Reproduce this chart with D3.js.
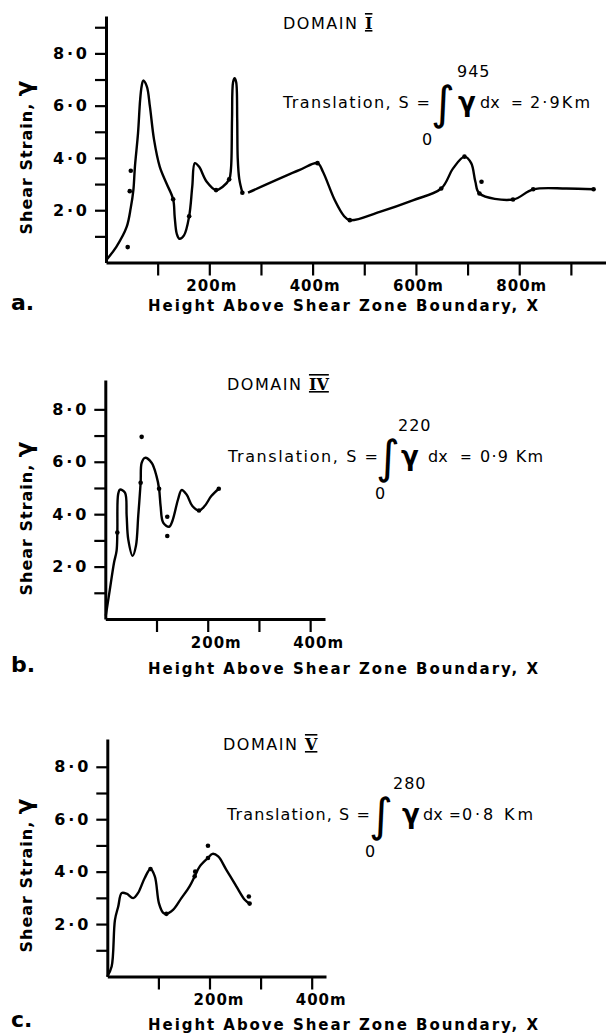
<!DOCTYPE html>
<html>
<head>
<meta charset="utf-8">
<script src="https://cdn.jsdelivr.net/npm/d3@7"></script>
<style>
  body { margin: 0; background: #fff; }
  text { font-family: "DejaVu Sans", sans-serif; fill: #000; }
</style>
</head>
<body>
<svg id="chart"></svg>
<script>
// values: [height above boundary (m), shear strain]
var curveA1 = [[0,0.08],[20,0.6],[40,1.36],[48,2.1],[53,2.77],[56,3.67],[62,4.95],[66,6.2],[69,6.74],[72,6.96],
  [79,6.74],[85,5.97],[93,4.7],[104,3.67],[117,3.03],[130,2.42],[133,1.74],[137,1.1],[142,0.91],[151,1.04],
  [161,1.77],[167,2.9],[172,3.8],[180,3.67],[195,3.09],[213,2.77],[226,2.9],[238.5,3.18],[242,3.6],[244,5.5],
  [246,6.9],[249,7.05],[252,6.9],[254,5.5],[255,4.0],[258,3.2],[264,2.67]]
var curveA2 = [[275,2.67],[375,3.54],[409.5,3.8],[420,3.47],[443,2.38],[460,1.8],[472,1.62],[530,1.94],[594,2.38],
  [649,2.83],[672,3.6],[694,4.05],[707,3.8],[715,3.1],[723,2.64],[788,2.41],[827,2.8],[891,2.83],[944,2.8]]
var dotsA = [[130,2.42],[161,1.77],[213,2.77],[238.5,3.18],[264,2.67],[409.5,3.8],[472,1.62],[649,2.83],
  [694,4.05],[723,2.64],[788,2.41],[827,2.8],[944,2.8],[42,0.59],[46,2.73],[48,3.51],[727,3.09]]

var curveB = [[1,0.13],[9,1.14],[17,2.15],[22,2.6],[23.5,3.3],[25,4.75],[28.6,4.94],[38.4,4.82],[41.7,3.93],
  [44.8,3.04],[53.4,2.41],[59.8,2.79],[64.3,3.93],[69,5.2],[71,5.96],[77.4,6.15],[90.4,5.96],[100,5.45],
  [105,4.97],[108,4.31],[113,3.68],[124.7,3.52],[131,3.74],[142,4.56],[149,4.92],[158.7,4.75],[170,4.31],
  [183,4.14],[194,4.31],[207,4.69],[221.6,4.97]]
var dotsB = [[23.5,3.3],[69,5.2],[105,4.97],[183,4.14],[221.6,4.97],[71,6.95],[121,3.9],[121,3.17]]

var curveC = [[0,0],[8.5,0.38],[15,2.16],[21.4,2.67],[28,3.18],[37.7,3.16],[50.6,2.99],[60,3.18],[73,3.75],
  [84.5,4.1],[93,3.82],[101,2.8],[109,2.44],[115.6,2.39],[128.6,2.54],[145,2.99],[161,3.44],[171,3.82],
  [181,4.2],[197,4.52],[206,4.68],[217,4.58],[233,4.07],[252.5,3.44],[269,2.93],[278.5,2.78]]
var dotsC = [[84.5,4.1],[115.6,2.39],[171,3.82],[197,4.52],[278.5,2.78],[172,4.0],[197,4.99],[277,3.05]]

var yTicksA = [1,2,3,4,5,6,7,8,9]
var yTicksBC = [1,2,3,4,5,6,7,8]
var xTicksA = [100,200,300,400,500,600,700,800,900]
var xTicksBC = [100,200,300,400]
var yLabelled = [2,4,6,8]
var xLabelled = [200,400,600,800]

var domains = ["I", "IV", "V"]
var upperLimits = ["945", "220", "280"]
var results = ["2·9Km", "0·9 Km", "0·8 Km"]

var width = 606, height = 1033

var svg = d3.select("#chart")
    .attr("width", width)
    .attr("height", height)

var panels = [
  {tag: "a.", curves: [curveA1, curveA2], dots: dotsA, xMax: 968, left: 106, right: 606,
   yMax: 9.43, bottom: 262.5, top: 16, yTicks: yTicksA, xTicks: xTicksA, labelDx: 2,
   yTitle: 157, xTitleY: 311, tagY: 310,
   domX: 283, domY: 29, trX: 283, trY: 108, trW: 147,
   intX: 431, supX: 457, subX: 422, gamX: 458, dxX: 480, eqX: 511, resX: 530, resW: 60},
  {tag: "b.", curves: [curveB], dots: dotsB, xMax: 429, left: 105.3, right: 325,
   yMax: 9.12, bottom: 619, top: 380, yTicks: yTicksBC, xTicks: xTicksBC, labelDx: 8,
   yTitle: 518, xTitleY: 674, tagY: 672,
   domX: 227, domY: 390, trX: 228, trY: 462, trW: 150,
   intX: 376, supX: 398, subX: 375, gamX: 401, dxX: 428, eqX: 460, resX: 480, resW: 63},
  {tag: "c.", curves: [curveC], dots: dotsC, xMax: 428, left: 107.3, right: 326,
   yMax: 9.06, bottom: 976.5, top: 739, yTicks: yTicksBC, xTicks: xTicksBC, labelDx: 9,
   yTitle: 875, xTitleY: 1030, tagY: 1027,
   domX: 223, domY: 750, trX: 227, trY: 820, trW: 143,
   intX: 369, supX: 393, subX: 365, gamX: 402, dxX: 423, eqX: 449, resX: 462, resW: 71}
]

panels.forEach(function(p, i) {
  var x = d3.scaleLinear().domain([0, p.xMax]).range([p.left, p.right])
  var y = d3.scaleLinear().domain([0, p.yMax]).range([p.bottom, p.top])

  var g = svg.append("g")

  // y axis
  var yAxis = g.append("g")
      .attr("transform", "translate(" + p.left + ",0)")
      .call(d3.axisLeft(y)
          .tickValues(p.yTicks)
          .tickSize(11)
          .tickSizeOuter(0)
          .tickPadding(8)
          .tickFormat(d => yLabelled.includes(d) ? d + "·0" : ""))
  yAxis.select(".domain").attr("stroke-width", 3)
  yAxis.selectAll(".tick line").attr("stroke-width", 2.2)
  yAxis.selectAll(".tick text")
      .attr("font-size", 16).attr("font-weight", "bold")
      .attr("font-family", "DejaVu Sans")
      .attr("textLength", 34).attr("lengthAdjust", "spacing")

  // x axis
  var xAxis = g.append("g")
      .attr("transform", "translate(0," + p.bottom + ")")
      .call(d3.axisBottom(x)
          .tickValues(p.xTicks)
          .tickSize(13)
          .tickSizeOuter(0)
          .tickPadding(5)
          .tickFormat(d => xLabelled.includes(d) ? d + "m" : ""))
  xAxis.select(".domain").attr("stroke-width", 3.2)
  xAxis.selectAll(".tick line").attr("stroke-width", 2.2)
  xAxis.selectAll(".tick text")
      .attr("font-size", 15).attr("font-weight", "bold")
      .attr("letter-spacing", 1).attr("font-family", "DejaVu Sans")
      .attr("dx", p.labelDx)

  // strain curves
  var line = d3.line()
      .x(d => x(d[0]))
      .y(d => y(d[1]))
      .curve(d3.curveCatmullRom.alpha(0.5))

  g.selectAll(".curve")
    .data(p.curves)
    .enter()
    .append("path")
      .attr("d", line)
      .attr("fill", "none")
      .attr("stroke", "#000")
      .attr("stroke-width", 2.4)
      .attr("stroke-linejoin", "round")

  g.selectAll(".dot")
    .data(p.dots)
    .enter()
    .append("circle")
      .attr("cx", d => x(d[0]))
      .attr("cy", d => y(d[1]))
      .attr("r", 2.3)
      .attr("fill", "#000")

  // axis titles
  var yt = g.append("text")
      .attr("transform", "translate(32," + p.yTitle + ") rotate(-90)")
      .attr("text-anchor", "middle")
      .attr("font-size", 16)
      .attr("font-weight", "bold")
      .attr("letter-spacing", 1)
  yt.append("tspan").text("Shear Strain, ")
  yt.append("tspan").text("γ").attr("font-size", 23)

  g.append("text")
      .attr("x", 148)
      .attr("y", p.xTitleY)
      .attr("font-size", 15)
      .attr("font-weight", "bold")
      .attr("textLength", 390)
      .attr("lengthAdjust", "spacing")
      .text("Height Above Shear Zone Boundary, X")

  g.append("text")
      .attr("x", 11)
      .attr("y", p.tagY)
      .attr("font-size", 22)
      .attr("font-weight", "bold")
      .text(p.tag)

  // domain title
  var dt = g.append("text")
      .attr("x", p.domX)
      .attr("y", p.domY)
      .attr("font-size", 16)
  dt.append("tspan").text("DOMAIN ").attr("letter-spacing", 1.5)
  dt.append("tspan").text(domains[i])
      .attr("font-weight", "bold")
      .attr("text-decoration", "underline overline")
      .attr("font-family", "DejaVu Serif")

  // translation formula
  g.append("text")
      .attr("x", p.trX).attr("y", p.trY)
      .attr("font-size", 16)
      .attr("textLength", p.trW).attr("lengthAdjust", "spacing")
      .text("Translation, S =")
  g.append("text")
      .attr("x", p.intX).attr("y", p.trY + 11)
      .attr("font-size", 46)
      .attr("font-family", "DejaVu Serif")
      .attr("font-style", "italic")
      .text("∫")
  g.append("text")
      .attr("x", p.supX).attr("y", p.trY - 31)
      .attr("font-size", 16)
      .attr("letter-spacing", 1)
      .text(upperLimits[i])
  g.append("text")
      .attr("x", p.subX).attr("y", p.trY + 37)
      .attr("font-size", 16)
      .text("0")
  g.append("text")
      .attr("x", p.gamX).attr("y", p.trY + 3)
      .attr("font-size", 26).attr("font-weight", "bold")
      .text("γ")
  g.append("text")
      .attr("x", p.dxX).attr("y", p.trY)
      .attr("font-size", 16)
      .text("dx")
  g.append("text")
      .attr("x", p.eqX).attr("y", p.trY)
      .attr("font-size", 14)
      .text("=")
  g.append("text")
      .attr("x", p.resX).attr("y", p.trY)
      .attr("font-size", 16)
      .attr("textLength", p.resW).attr("lengthAdjust", "spacing")
      .text(results[i])
})
</script>
</body>
</html>
